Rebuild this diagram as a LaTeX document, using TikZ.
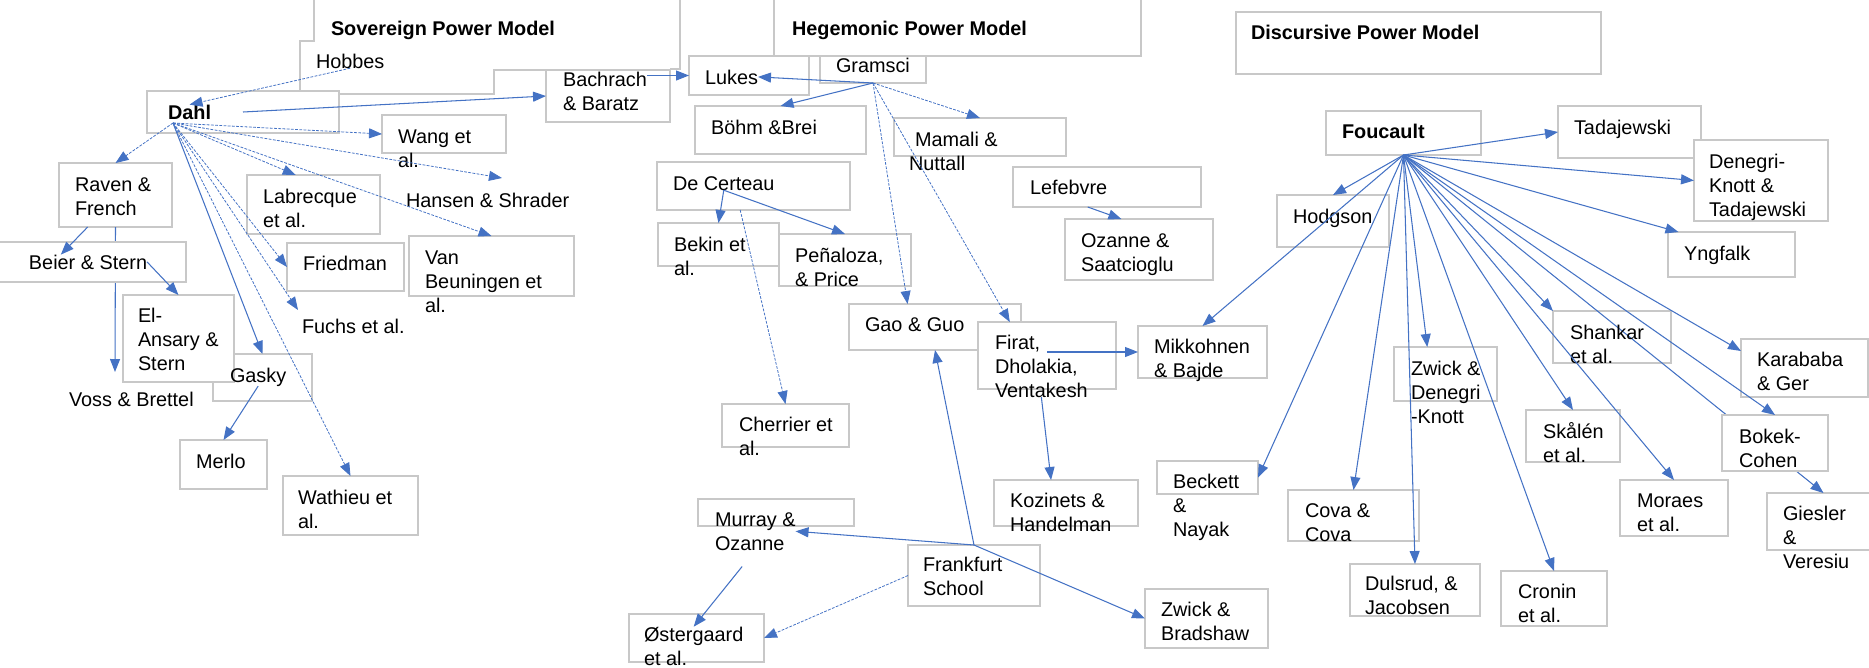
\documentclass[tikz,border=0pt]{standalone}
\usepackage{fontspec}
\setmainfont{Liberation Sans}
\usetikzlibrary{arrows.meta,fit}
\definecolor{arrblue}{HTML}{4472C4}
\definecolor{boxgray}{HTML}{C8C8C8}
\tikzset{
  box/.style={rectangle,draw=boxgray,fill=white,line width=0.6pt,inner sep=0pt,outer sep=0pt},
  frame/.style={draw=boxgray,line width=0.6pt},
  lbl/.style={anchor=base west,align=left,inner sep=0pt,outer sep=0pt,font=\fontsize{11.3}{13.6}\selectfont},
  hd/.style={lbl,font=\fontsize{11.3}{13.6}\selectfont\bfseries},
  arr/.style={color=arrblue,line width=0.6pt,-{Triangle[length=0.26cm,width=0.2cm]}},
  darr/.style={arr,line width=0.45pt,dash pattern=on 1.6pt off 0.8pt}
}
\begin{document}
\begin{tikzpicture}[x=0.02cm,y=-0.02cm]
      \useasboundingbox (0,0) rectangle (1869,667);

      \draw[frame] (314,-5) -- (314,41) -- (300,41) -- (300,91);
      \draw[frame] (680,-5) -- (680,69) -- (670,69);
      \node[box,fit={(147,91) (339,133)}] (dahl) {};
      \draw[frame] (339,94) -- (494,94) -- (494,70) -- (546,70);
      \node[box,fit={(546,70) (670,122)}] (bachrach) {};
      \node[box,fit={(382,115) (506,153)}] (wang) {};
      \node[box,fit={(59,163) (172,227)}] (raven) {};
      \coordinate (voss-in) at (115,372);
      \path[arr] (raven.south) edge (voss-in);
      \node[box,fit={(247,175) (380,234)}] (labrecque) {};
      \node[box,fit={(-5,242) (186,282)}] (beier) {};
      \node[box,fit={(287,243) (404,291)}] (friedman) {};
      \node[box,fit={(409,236) (574,296)}] (vanb) {};
      \node[box,fit={(213,354) (312,401)}] (gasky) {};
      \node[box,fit={(123,295) (234,382)}] (elansary) {};
      \node[box,fit={(180,440) (267,489)}] (merlo) {};
      \node[box,fit={(283,476) (418,535)}] (wathieu) {};

      \node[box,fit={(774,-5) (1141,56)}] (heg-box) {};
      \node[box,fit={(689,56) (809,95)}] (lukes) {};
      \node[box,fit={(820,56) (926,83)}] (gramsci) {};
      \node[box,fit={(695,106) (866,154)}] (bohm) {};
      \node[box,fit={(894,118) (1066,156)}] (mamali) {};
      \node[box,fit={(657,162) (850,210)}] (decerteau) {};
      \node[box,fit={(658,223) (779,266)}] (bekin) {};
      \node[box,fit={(779,234) (911,286)}] (penaloza) {};
      \node[box,fit={(1013,167) (1201,207)}] (lefebvre) {};
      \node[box,fit={(1065,219) (1213,280)}] (ozanne) {};
      \node[box,fit={(849,304) (1021,350)}] (gao) {};
      \node[box,fit={(978,322) (1116,389)}] (firat) {};
      \node[box,fit={(1138,326) (1267,378)}] (mikk) {};
      \node[box,fit={(722,404) (849,447)}] (cherrier) {};
      \node[box,fit={(994,480) (1138,526)}] (kozinets) {};
      \node[box,fit={(698,499) (854,526)}] (murray) {};
      \node[box,fit={(908,545) (1040,606)}] (frankfurt) {};
      \node[box,fit={(629,614) (764,662)}] (oster) {};
      \node[box,fit={(1145,589) (1268,648)}] (zwickb) {};
      \node[box,fit={(1157,461) (1258,494)}] (beckett) {};

      \node[box,fit={(1236,12) (1601,74)}] (disc-box) {};
      \node[box,fit={(1326,111) (1481,155)}] (foucault) {};
      \node[box,fit={(1558,106) (1701,158)}] (tad) {};
      \node[box,fit={(1694,140) (1828,221)}] (den) {};
      \node[box,fit={(1668,232) (1795,277)}] (yng) {};
      \node[box,fit={(1277,195) (1389,247)}] (hodg) {};
      \node[box,fit={(1553,311) (1671,363)}] (shankar) {};
      \node[box,fit={(1741,339) (1868,397)}] (kar) {};
      \node[box,fit={(1394,347) (1497,401)}] (zwd) {};
      \node[box,fit={(1526,410) (1620,462)}] (skalen) {};
      \node[box,fit={(1767,493) (1880,550)}] (giesler) {};
      \path[arr] (foucault.south) edge (giesler.north);
      \node[box,fit={(1722,415) (1828,471)}] (bokek) {};
      \node[box,fit={(1620,480) (1728,536)}] (moraes) {};
      \node[box,fit={(1288,490) (1419,541)}] (cova) {};
      \node[box,fit={(1350,564) (1480,616)}] (dulsrud) {};
      \node[box,fit={(1501,571) (1607,626)}] (cronin) {};

      \node[hd] (sov-title) at (331,35) {Sovereign Power Model};
      \node[lbl] (hobbes-t) at (316,68) {Hobbes};
      \node[hd] (dahl-t) at (168,119) {Dahl};
      \node[lbl] (bachrach-t) at (563,110) {Bachrach\\\& Baratz};
      \node[lbl] (wang-t) at (398,167) {Wang et\\al.};
      \node[lbl] (hansen-t) at (406,207) {Hansen \& Shrader};
      \node[lbl] (raven-t) at (75,215) {Raven \&\\French};
      \node[lbl] (labrecque-t) at (263,227) {Labrecque\\et al.};
      \node[lbl] (beier-t) at (29,269) {Beier \& Stern};
      \node[lbl] (friedman-t) at (303,270) {Friedman};
      \node[lbl] (vanb-t) at (425,312) {Van\\Beuningen et\\al.};
      \node[lbl] (elansary-t) at (138,370) {El-\\Ansary \&\\Stern};
      \node[lbl] (fuchs-t) at (302,333) {Fuchs et al.};
      \node[lbl] (gasky-t) at (230,382) {Gasky};
      \node[lbl] (voss-t) at (69,406) {Voss \& Brettel};
      \node[lbl] (merlo-t) at (196,468) {Merlo};
      \node[lbl] (wathieu-t) at (298,528) {Wathieu et\\al.};

      \node[hd] (heg-title) at (792,35) {Hegemonic Power Model};
      \node[lbl] (lukes-t) at (705,84) {Lukes};
      \node[lbl] (gramsci-t) at (836,72) {Gramsci};
      \node[lbl] (bohm-t) at (711,134) {Böhm \&Brei};
      \node[lbl] (mamali-t) at (909,170) {\hspace*{0.12cm}Mamali \&\\Nuttall};
      \node[lbl] (decerteau-t) at (673,190) {De Certeau};
      \node[lbl] (bekin-t) at (674,275) {Bekin et\\al.};
      \node[lbl] (penaloza-t) at (795,286) {Peñaloza,\\\& Price};
      \node[lbl] (lefebvre-t) at (1030,194) {Lefebvre};
      \node[lbl] (ozanne-t) at (1081,271) {Ozanne \&\\Saatcioglu};
      \node[lbl] (gao-t) at (865,331) {Gao \& Guo};
      \node[lbl] (firat-t) at (995,397) {Firat,\\Dholakia,\\Ventakesh};
      \node[lbl] (mikk-t) at (1154,377) {Mikkohnen\\\& Bajde};
      \node[lbl] (cherrier-t) at (739,455) {Cherrier et\\al.};
      \node[lbl] (kozinets-t) at (1010,531) {Kozinets \&\\Handelman};
      \node[lbl] (murray-t) at (715,550) {Murray \&\\Ozanne};
      \node[lbl] (frankfurt-t) at (923,595) {Frankfurt\\School};
      \node[lbl] (oster-t) at (644,665) {Østergaard\\et al.};
      \node[lbl] (zwickb-t) at (1161,640) {Zwick \&\\Bradshaw};
      \node[lbl] (beckett-t) at (1173,536) {Beckett\\\&\\Nayak};

      \node[hd] (disc-title) at (1251,39) {Discursive Power Model};
      \node[hd] (foucault-t) at (1342,138) {Foucault};
      \node[lbl] (tad-t) at (1574,134) {Tadajewski};
      \node[lbl] (den-t) at (1709,216) {Denegri-\\Knott \&\\Tadajewski};
      \node[lbl] (yng-t) at (1684,260) {Yngfalk};
      \node[lbl] (hodg-t) at (1293,223) {Hodgson};
      \node[lbl] (shankar-t) at (1570,363) {Shankar\\et al.};
      \node[lbl] (kar-t) at (1757,390) {Karababa\\\& Ger};
      \node[lbl] (zwd-t) at (1411,423) {Zwick \&\\Denegri\\-Knott};
      \node[lbl] (skalen-t) at (1543,462) {Skålén\\et al.};
      \node[lbl] (bokek-t) at (1739,467) {Bokek-\\Cohen};
      \node[lbl] (moraes-t) at (1637,531) {Moraes\\et al.};
      \node[lbl] (giesler-t) at (1783,568) {Giesler\\\&\\Veresiu};
      \node[lbl] (cova-t) at (1305,541) {Cova \&\\Cova};
      \node[lbl] (dulsrud-t) at (1365,614) {Dulsrud, \&\\Jacobsen};
      \node[lbl] (cronin-t) at (1518,622) {Cronin\\et al.};

      \coordinate (dahl-hub) at (173,123);
      \coordinate (hansen-in) at (502,178);
      \coordinate (fuchs-in) at (298,310);
      \path[darr] (hobbes-t.south) edge (dahl-t.north);
      \path[arr] (dahl.center) edge (bachrach.west);
      \path[darr] (dahl-hub) edge (wang.west);
      \path[darr] (dahl-hub) edge (hansen-in);
      \path[darr] (dahl-hub) edge (raven.north);
      \path[darr] (dahl-hub) edge (labrecque.121);
      \path[darr] (dahl-hub) edge (vanb.north);
      \path[darr] (dahl-hub) edge (friedman.west);
      \path[darr] (dahl-hub) edge (fuchs-in);
      \path[arr] (dahl-hub) edge (gasky.north);
      \path[darr] (dahl-hub) edge (wathieu.north);
      \path[arr] (raven.-131) edge (beier-t.165);
      \path[arr] (beier-t.east) edge (elansary.north);
      \path[arr] (gasky-t.south) edge (merlo.north);

      \path[arr] (lukes.west -| bachrach-t.east) edge (lukes.west);
      \path[arr] (gramsci.south) edge (lukes-t.east);
      \path[arr] (gramsci.south) edge (bohm.north);
      \path[darr] (gramsci.south) edge (mamali.north);
      \path[darr] (gramsci.south) edge (gao.140);
      \path[darr] (gramsci.south) edge (firat.138);
      \path[arr] (decerteau-t.south) edge (bekin.north);
      \path[arr] (decerteau-t.south) edge (penaloza.north);
      \path[darr] (decerteau.-119) edge (cherrier.north);
      \path[arr] (lefebvre.-134) edge (ozanne.120);
      \path[arr] (mikk.west -| firat.center) edge (mikk.west);
      \path[arr] (firat-t.south) edge (kozinets.123);
      \path[arr] (frankfurt.north) edge (gao.south);
      \path[arr] (frankfurt.north) edge (murray-t.east);
      \path[arr] (frankfurt.north) edge (zwickb.west);
      \path[darr] (frankfurt.west) edge (oster.east);
      \draw[arr,shorten <=0.42cm] (murray-t.south) -- (oster-t.north);

      \path[arr] (foucault.south) edge (tad.west);
      \path[arr] (foucault.south) edge (den.west);
      \path[arr] (foucault.south) edge (yng.157);
      \path[arr] (foucault.south) edge (hodg.north);
      \path[arr] (foucault.south) edge (mikk.north);
      \path[arr] (foucault.south) edge (beckett.east);
      \path[arr] (foucault.south) edge (cova.north);
      \path[arr] (foucault.south) edge (zwd.124);
      \path[arr] (foucault.south) edge (dulsrud.north);
      \path[arr] (foucault.south) edge (cronin.north);
      \path[arr] (foucault.south) edge (shankar.north west);
      \path[arr] (foucault.south) edge (skalen.north);
      \path[arr] (foucault.south) edge (moraes.north);
      \path[arr] (foucault.south) edge (kar.165);
      \path[arr] (foucault.south) edge (bokek.north);
    \end{tikzpicture}
\end{document}
